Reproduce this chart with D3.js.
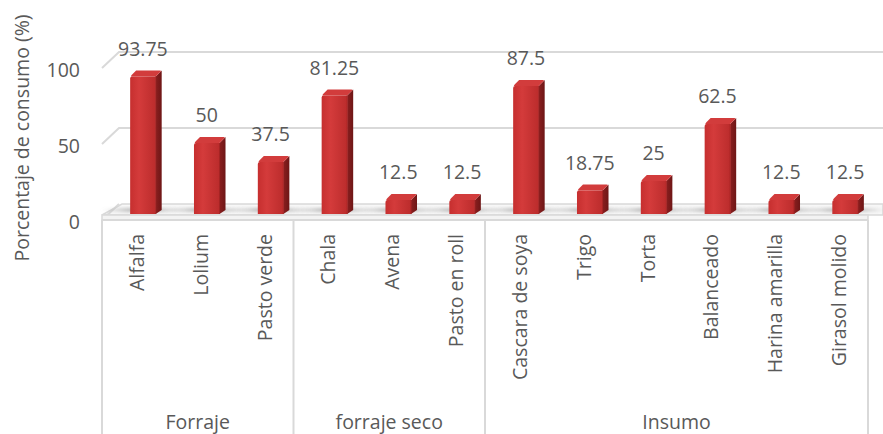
<!DOCTYPE html>
<html><head><meta charset="utf-8">
<script src="https://cdn.jsdelivr.net/npm/d3@7/dist/d3.min.js"></script>
<style>
html,body{margin:0;padding:0;background:#fff;}
text{font-family:"Open Sans",sans-serif;fill:#595959;}
</style></head>
<body><svg id="c" width="883" height="434"></svg>
<script>
const categories = ["Alfalfa","Lolium","Pasto verde","Chala","Avena","Pasto en roll","Cascara de soya","Trigo","Torta","Balanceado","Harina amarilla","Girasol molido"];
const values = [93.75, 50, 37.5, 81.25, 12.5, 12.5, 87.5, 18.75, 25, 62.5, 12.5, 12.5];
const valueLabels = ["93.75","50","37.5","81.25","12.5","12.5","87.5","18.75","25","62.5","12.5","12.5"];
const groups = ["Forraje","forraje seco","Insumo"];
const groupSizes = [3, 3, 6];
const yTicks = [0, 50, 100];
const yTitle = "Porcentaje de consumo (%)";

const svg = d3.select("#c");
const defs = svg.append("defs");
const xL = 102, xR = 868;
const grid = "#d9d9d9";
const DX = 17, DY = -16;

const x = d3.scaleBand().domain(categories).range([xL, xR]).paddingInner(0.6).paddingOuter(0.3);
const yF = d3.scaleLinear().domain([0, 100]).range([220, 68]);   // front plane
const yB = d3.scaleLinear().domain([0, 100]).range([214, 62]);   // bar plane

// gradients
const gFront = defs.append("linearGradient").attr("id","gf").attr("x1","0").attr("x2","1").attr("y1","0").attr("y2","0");
gFront.append("stop").attr("offset","0").attr("stop-color","#c62f2f");
gFront.append("stop").attr("offset","0.35").attr("stop-color","#d43b3b");
gFront.append("stop").attr("offset","1").attr("stop-color","#bb2c2c");
const gSide = defs.append("linearGradient").attr("id","gs").attr("x1","0").attr("x2","1");
gSide.append("stop").attr("offset","0").attr("stop-color","#8a1f1f");
gSide.append("stop").attr("offset","1").attr("stop-color","#6e1616");
const gShadow = defs.append("radialGradient").attr("id","gsh");
gShadow.append("stop").attr("offset","0").attr("stop-color","#7a7a7a").attr("stop-opacity",0.8);
gShadow.append("stop").attr("offset","1").attr("stop-color","#9a9a9a").attr("stop-opacity",0);
defs.append("filter").attr("id","blur").append("feGaussianBlur").attr("stdDeviation",1.5);

// gridlines: left wall diagonal + back wall horizontal
yTicks.forEach(t => {
  if (t === 0) return;
  const yf = yF(t);
  svg.append("path")
    .attr("d", `M${xL},${yf} L${xL+DX},${yf+DY} L883,${yf+DY}`)
    .attr("fill","none").attr("stroke",grid).attr("stroke-width",2);
});

// floor
svg.append("path")
  .attr("d", `M${xL},215 L${xL+DX+3},${204} L883,204 L883,215 Z`)
  .attr("fill","#f7f7f7").attr("stroke",grid).attr("stroke-width",1.5);
svg.append("path")
  .attr("d", `M${xL},${yF(0)} L${xL+DX},${yF(0)+DY}`)
  .attr("stroke",grid).attr("stroke-width",2);
svg.append("rect").attr("x",xL).attr("y",215).attr("width",xR-xL).attr("height",5)
  .attr("fill","#f3f3f3").attr("stroke",grid).attr("stroke-width",1.5);

// shadows
svg.append("g").selectAll("ellipse").data(categories).join("ellipse")
  .attr("cx", d => x(d) + x.bandwidth()/2 + 9)
  .attr("cy", 210).attr("rx", 42).attr("ry", 3.2)
  .attr("fill","url(#gsh)").attr("filter","url(#blur)");

// bars
const bw = x.bandwidth(), bd = 6;
const bars = svg.append("g").selectAll("g").data(categories).join("g");
bars.each(function(d, i) {
  const g = d3.select(this);
  const xl = x(d) + 9;
  const w = bw;
  const ft = yB(values[i]) + 5;
  const bot = yB(0);
  // side
  g.append("path")
    .attr("d", `M${xl+w},${bot} L${xl+w},${ft} L${xl+w+bd},${ft-bd} L${xl+w+bd},${bot-bd+2} Z`)
    .attr("fill","url(#gs)");
  // top
  g.append("path")
    .attr("d", `M${xl+1},${ft} Q${xl},${ft} ${xl+3},${ft-3} L${xl+bd},${ft-bd} L${xl+w+bd-2},${ft-bd} Q${xl+w+bd},${ft-bd} ${xl+w+bd-1},${ft-bd+1} L${xl+w},${ft} Z`)
    .attr("fill","#d23c3c");
  // front
  g.append("path")
    .attr("d", `M${xl},${bot} L${xl},${ft+2} Q${xl},${ft} ${xl+2},${ft} L${xl+w},${ft} L${xl+w},${bot} Z`)
    .attr("fill","url(#gf)");
  g.append("line").attr("x1",xl+w).attr("x2",xl+w).attr("y1",ft).attr("y2",bot)
    .attr("stroke","#a52424").attr("stroke-width",1);
  // value label
  g.append("text")
    .attr("x", xl + w/2)
    .attr("y", ft - bd - 15)
    .attr("text-anchor","middle").attr("font-size",19.5)
    .text(valueLabels[i]);
});

// category axis box
svg.append("line").attr("x1",xL).attr("x2",xR).attr("y1",220).attr("y2",220)
  .attr("stroke",grid).attr("stroke-width",2);
let acc = 0;
const bounds = [xL];
groupSizes.forEach(n => { acc += n; bounds.push(xL + acc * x.step()); });
bounds.forEach(b => {
  svg.append("line").attr("x1",b).attr("x2",b).attr("y1",220).attr("y2",434)
    .attr("stroke",grid).attr("stroke-width",2);
});
groups.forEach((gname, gi) => {
  svg.append("text").attr("x",(bounds[gi]+bounds[gi+1])/2).attr("y",429)
    .attr("text-anchor","middle").attr("font-size",19.5).text(gname);
});

// category labels
svg.append("g").selectAll("text").data(categories).join("text")
  .attr("transform", d => `translate(${x(d)+bw/2+10},234) rotate(-90)`)
  .attr("text-anchor","end").attr("font-size",19.5)
  .text(d => d);

// y tick labels
svg.append("g").selectAll("text").data(yTicks).join("text")
  .attr("x",80).attr("y", d => yF(d)+9)
  .attr("text-anchor","end").attr("font-size",19.5)
  .text(d => d);

// y title
svg.append("text")
  .attr("transform","translate(29,138) rotate(-90)")
  .attr("text-anchor","middle").attr("font-size",19.5)
  .text(yTitle);
</script></body></html>
